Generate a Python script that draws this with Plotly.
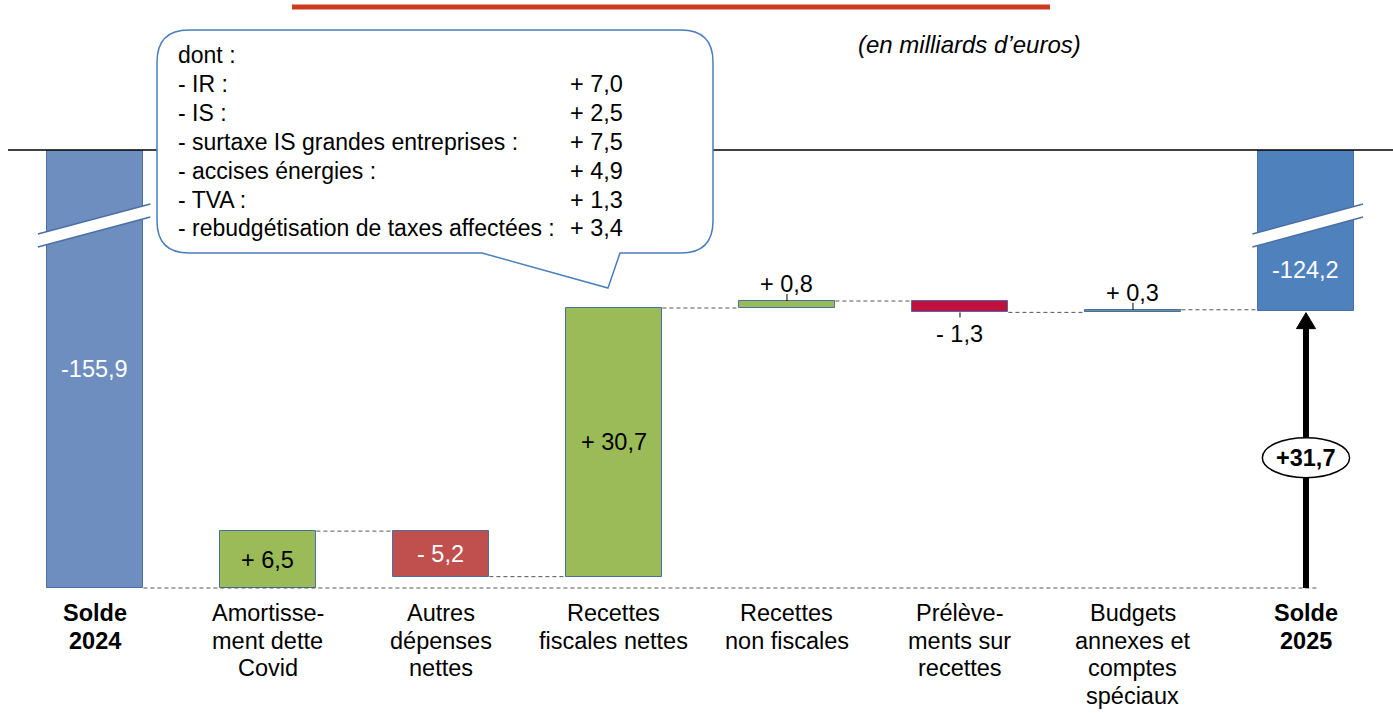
import plotly.graph_objects as go

# ---------------- data ----------------
categories = ["Solde\n2024", "Amortisse-\nment dette\nCovid", "Autres\ndépenses\nnettes",
              "Recettes\nfiscales nettes", "Recettes\nnon fiscales", "Prélève-\nments sur\nrecettes",
              "Budgets\nannexes et\ncomptes\nspéciaux", "Solde\n2025"]
solde_2024 = -155.9
variations = [6.5, -5.2, 30.7, 0.8, -1.3, 0.3]
solde_2025 = -124.2
bubble_items = ["IR", "IS", "surtaxe IS grandes entreprises", "accises énergies", "TVA",
                "rebudgétisation de taxes affectées"]
bubble_values = [7.0, 2.5, 7.5, 4.9, 1.3, 3.4]
unit_note = "(en milliards d’euros)"

# ---------------- styles ----------------
FONT = "Liberation Sans, Arial, sans-serif"
FS = 23.5
W, H = 1393, 713
M_T, M_B = 150, 113
PLOT_H = H - M_T - M_B
SOLDE24_COLOR = "#6d8ebf"
SOLDE25_COLOR = "#4f81bd"
var_colors = ["#9bbb59", "#c0504d", "#9bbb59", "#9bbb59", "#c0103f", "#6b9488"]
var_text_colors = ["black", "white", "black", "black", "black", "black"]
EDGE = "#4a6fa5"
BAR_W = 0.56
Y_TOP = 50.06
Y_BOT = -1.371


def px(x):
    return x / W


def py(y):
    return (H - M_B - y) / PLOT_H


def fmt(v, space=True):
    s = f"{abs(v):.1f}".replace(".", ",")
    sign = "+" if v > 0 else "-"
    return sign + (" " if space else "") + s


# ---------------- geometry from data ----------------
n = len(categories)
xs = list(range(n))
cum = [0.0]
for v in variations:
    cum.append(cum[-1] + v)
total = solde_2025 - solde_2024

bases = [0.0]
heights = [-solde_2024]
colors = [SOLDE24_COLOR]
for i, v in enumerate(variations):
    bases.append(min(cum[i], cum[i + 1]))
    heights.append(abs(v))
    colors.append(var_colors[i])
bases.append(total)
heights.append(-solde_2025)
colors.append(SOLDE25_COLOR)

fig = go.Figure()
fig.add_trace(go.Bar(x=xs, y=heights, base=bases, width=BAR_W,
                     marker=dict(color=colors, line=dict(color=EDGE, width=1)),
                     hoverinfo="skip", showlegend=False))

shapes = []
annotations = []

# zero line at top
shapes.append(dict(type="line", xref="paper", yref="paper", x0=px(8), x1=1, y0=1, y1=1,
                   line=dict(color="black", width=1.5), layer="above"))

# baseline dashed
DASH = dict(color="#555555", width=1, dash="4px,3px")
shapes.append(dict(type="line", xref="x", yref="y", x0=BAR_W / 2, x1=n - 1 + 0.06, y0=0, y1=0, line=DASH))
# connectors
for i in range(1, n - 1):
    shapes.append(dict(type="line", xref="x", yref="y", x0=i + BAR_W / 2, x1=i + 1 - BAR_W / 2,
                       y0=cum[i], y1=cum[i], line=DASH))

# break marks on the solde bars
for xc, dl, dr in [(0, 0.33, 0.32), (n - 1, 0.31, 0.33)]:
    yl1, yl2, yr1, yr2 = 40.46, 38.97, 43.89, 42.4
    shapes.append(dict(type="path", xref="x", yref="y",
                       path=f"M {xc-dl},{yl1} L {xc+dr},{yr1} L {xc+dr},{yr2} L {xc-dl},{yl2} Z",
                       fillcolor="white", line=dict(width=0)))
    shapes.append(dict(type="line", xref="x", yref="y", x0=xc - dl, y0=yl1, x1=xc + dr, y1=yr1,
                       line=dict(color=EDGE, width=1.5)))
    shapes.append(dict(type="line", xref="x", yref="y", x0=xc - dl, y0=yl2, x1=xc + dr, y1=yr2,
                       line=dict(color=EDGE, width=1.5)))

# solde labels
annotations.append(dict(x=0, y=25.0, xref="x", yref="y", text=f"{solde_2024:.1f}".replace(".", ","),
                        showarrow=False, font=dict(family=FONT, size=FS, color="white")))
annotations.append(dict(x=n - 1, y=36.3, xref="x", yref="y", text=f"{solde_2025:.1f}".replace(".", ","),
                        showarrow=False, font=dict(family=FONT, size=FS, color="white")))

# variation labels
U = PLOT_H / (Y_TOP - Y_BOT)  # px per unit
for i, v in enumerate(variations):
    xi = i + 1
    lo, hi = min(cum[i], cum[i + 1]), max(cum[i], cum[i + 1])
    if abs(v) >= 3:
        annotations.append(dict(x=xi, y=(lo + hi) / 2, xref="x", yref="y", text=fmt(v), showarrow=False,
                                font=dict(family=FONT, size=FS, color=var_text_colors[i])))
    else:
        if v > 0:
            edge, tick_end, ty = hi, hi + 7 / U, hi + 17 / U
        else:
            edge, tick_end, ty = lo, lo - 5 / U, lo - 22 / U
        shapes.append(dict(type="line", xref="x", yref="y", x0=xi, x1=xi, y0=edge, y1=tick_end,
                           line=dict(color="black", width=1)))
        annotations.append(dict(x=xi, y=ty, xref="x", yref="y", text=fmt(v), showarrow=False,
                                font=dict(family=FONT, size=FS, color="black")))

# total arrow
tip = total - 2 / U
head_h = 16 / U
shapes.append(dict(type="line", xref="x", yref="y", x0=n - 1, x1=n - 1, y0=0, y1=tip - head_h + 0.2,
                   line=dict(color="black", width=6)))
shapes.append(dict(type="path", xref="x", yref="y",
                   path=f"M {n-1-0.055},{tip-head_h} L {n-1+0.055},{tip-head_h} L {n-1},{tip} Z",
                   fillcolor="black", line=dict(color="black", width=1)))
ey = total * 0.47
shapes.append(dict(type="circle", xref="x", yref="y", x0=n - 1 - 0.252, x1=n - 1 + 0.252,
                   y0=ey - 20 / U, y1=ey + 20 / U, fillcolor="white", line=dict(color="black", width=1.5)))
annotations.append(dict(x=n - 1, y=ey, xref="x", yref="y", text="<b>" + fmt(total, space=False) + "</b>",
                        showarrow=False, font=dict(family=FONT, size=FS, color="black")))

# category labels (one annotation per line)
for i, cat in enumerate(categories):
    for k, line in enumerate(cat.split("\n")):
        t = f"<b>{line}</b>" if cat.startswith("Solde") else line
        annotations.append(dict(x=i, y=py(613 + k * 27.6), xref="x", yref="paper", text=t,
                                showarrow=False, xanchor="center", yanchor="middle",
                                font=dict(family=FONT, size=FS, color="black")))

# speech bubble
L, R, T, B, r = 157, 713, 30, 253, 32
pts = [("M", L + r, T), ("L", R - r, T), ("Q", R, T, R, T + r), ("L", R, B - r), ("Q", R, B, R - r, B),
       ("L", 620, B), ("L", 608, 288), ("L", 482, B), ("L", L + r, B), ("Q", L, B, L, B - r),
       ("L", L, T + r), ("Q", L, T, L + r, T)]
path = ""
for p in pts:
    if p[0] == "Q":
        path += f"Q {px(p[1])},{py(p[2])} {px(p[3])},{py(p[4])} "
    else:
        path += f"{p[0]} {px(p[1])},{py(p[2])} "
path += "Z"
shapes.append(dict(type="path", xref="paper", yref="paper", path=path, fillcolor="white",
                   line=dict(color="#4a7ebb", width=1.5), layer="above"))
bubble_lines = [("dont :", "")] + [(f"- {it} :", fmt(v)) for it, v in zip(bubble_items, bubble_values)]
for k, (lt, rt) in enumerate(bubble_lines):
    yy = py(55 + k * 28.9)
    annotations.append(dict(x=px(176), y=yy, xref="paper", yref="paper", text=lt, showarrow=False,
                            xanchor="left", yanchor="middle", font=dict(family=FONT, size=23, color="black")))
    if rt:
        annotations.append(dict(x=px(568), y=yy, xref="paper", yref="paper", text=rt, showarrow=False,
                                xanchor="left", yanchor="middle", font=dict(family=FONT, size=23.5, color="black")))

# top red rule and unit note
shapes.append(dict(type="line", xref="paper", yref="paper", x0=px(292), x1=px(1050), y0=py(7), y1=py(7),
                   line=dict(color="#cc3a1f", width=5)))
annotations.append(dict(x=px(969), y=py(45), xref="paper", yref="paper", text=f"<i>{unit_note}</i>",
                        showarrow=False, xanchor="center", yanchor="middle",
                        font=dict(family=FONT, size=24, color="black")))

fig.update_layout(
    width=W, height=H, margin=dict(l=0, r=0, t=M_T, b=M_B),
    plot_bgcolor="white", paper_bgcolor="white",
    xaxis=dict(range=[-0.549, 7.503], visible=False, fixedrange=True),
    yaxis=dict(range=[Y_BOT, Y_TOP], visible=False, fixedrange=True),
    shapes=shapes, annotations=annotations, bargap=0, showlegend=False,
)
fig.write_html("out.html", post_script="document.body.style.margin='0';document.body.style.overflow='hidden';",
               config={"displayModeBar": False})
